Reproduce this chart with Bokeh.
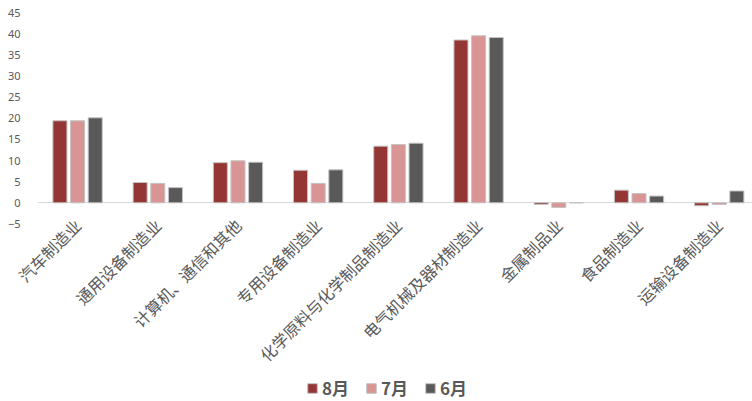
import numpy as np
import math
from bokeh.plotting import figure
from bokeh.models import ColumnDataSource, Range1d, FixedTicker, Legend, LegendItem, LinearAxis
from bokeh.transform import dodge
from bokeh.embed import file_html
from bokeh.resources import INLINE

categories = ["汽车制造业", "通用设备制造业", "计算机、通信和其他", "专用设备制造业",
              "化学原料与化学制品制造业", "电气机械及器材制造业", "金属制品业",
              "食品制造业", "运输设备制造业"]
aug = [19.4, 4.8, 9.5, 7.7, 13.4, 38.5, -0.4, 3.0, -0.7]
jul = [19.4, 4.6, 9.95, 4.6, 13.8, 39.5, -1.1, 2.2, -0.4]
jun = [20.1, 3.6, 9.6, 7.8, 14.1, 39.1, 0.0, 1.6, 2.8]
series_names = ["8月", "7月", "6月"]
series_colors = ["#943634", "#D99594", "#595959"]
y_ticks = [-5, 0, 5, 10, 15, 20, 25, 30, 35, 40, 45]

pos = np.arange(len(categories)) + 0.5
src = ColumnDataSource(dict(x=pos, aug=aug, jul=jul, jun=jun))

x_end = 8.915
p = figure(width=752, height=401, min_border_left=0, min_border_top=0,
           min_border_right=0, min_border_bottom=0,
           x_range=Range1d(-0.461, x_end), y_range=Range1d(-46.98, 47.84),
           output_backend="svg", toolbar_location=None)
p.outline_line_color = None
p.grid.visible = False
p.background_fill_color = "white"
p.border_fill_color = "white"

# category axis baseline at zero
base = LinearAxis(fixed_location=0, bounds=(0, x_end))
base.axis_line_color = "#d9d9d9"
base.axis_line_width = 1.2
base.major_tick_line_color = None
base.minor_tick_line_color = None
base.major_label_text_color = None
base.ticker = FixedTicker(ticks=[])
base.level = "underlay"
p.add_layout(base, "below")

offsets = [-0.22, 0.0, 0.22]
renderers = []
for key, off, col in zip(["aug", "jul", "jun"], offsets, series_colors):
    r = p.vbar(x=dodge("x", off), top=key, bottom=0, width=0.175, source=src,
               fill_color=col, line_color="#c4c4c4", line_width=1)
    renderers.append(r)

yax = p.yaxis[0]
yax.fixed_location = 0
yax.ticker = FixedTicker(ticks=y_ticks)
yax.axis_line_color = None
yax.major_tick_line_color = None
yax.minor_tick_line_color = None
yax.major_label_standoff = 11
yax.major_label_text_font = "Noto Sans"
yax.major_label_text_font_size = "11px"
yax.major_label_text_color = "#595959"

xax = p.xaxis[0]
xax.fixed_location = -5
xax.ticker = FixedTicker(ticks=list(pos))
xax.major_label_overrides = {float(v): c for v, c in zip(pos, categories)}
xax.axis_line_color = None
xax.major_tick_line_color = None
xax.minor_tick_line_color = None
xax.major_label_orientation = math.pi / 4
xax.major_label_standoff = -8
xax.major_label_text_font = "Noto Sans CJK SC"
xax.major_label_text_font_size = "16px"
xax.major_label_text_color = "#595959"

legend = Legend(items=[LegendItem(label=n, renderers=[r]) for n, r in zip(series_names, renderers)],
                orientation="horizontal", location=(306, 1))
legend.border_line_color = None
legend.background_fill_alpha = 0
legend.label_text_font = "Noto Sans CJK SC"
legend.label_text_font_style = "bold"
legend.label_text_font_size = "17px"
legend.label_text_color = "#595959"
legend.glyph_width = 12
legend.glyph_height = 12
legend.label_standoff = 4
legend.spacing = 16
legend.padding = 2
legend.margin = 0
p.add_layout(legend, "center")

open("out.html", "w").write(file_html(p, INLINE))
